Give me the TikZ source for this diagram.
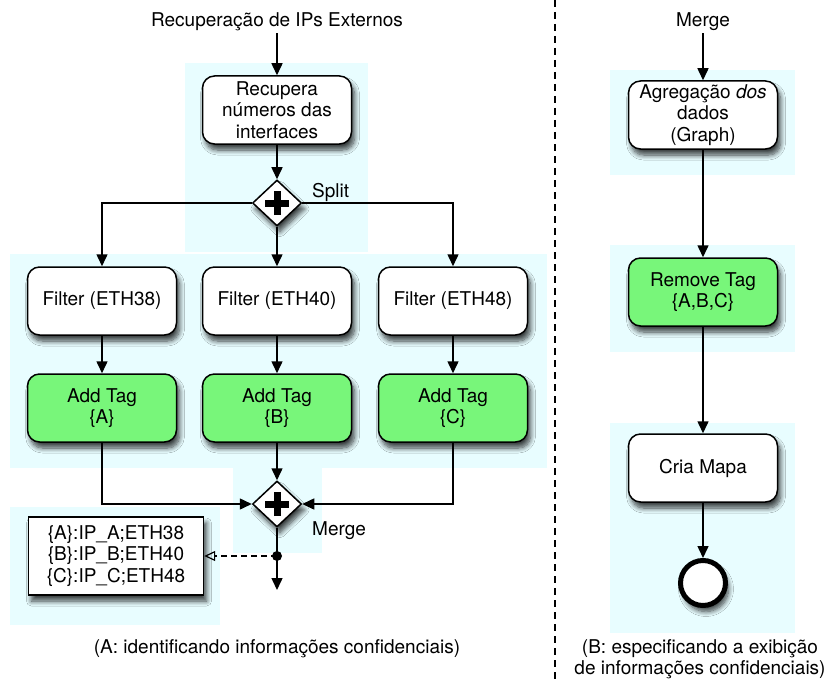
\documentclass[tikz,border=0pt]{standalone}
\usepackage{fontspec}
\setmainfont{TeX Gyre Heros}
\usetikzlibrary{arrows.meta,shapes.geometric,shadows.blur}
\definecolor{lane}{RGB}{232,253,255}
\definecolor{tagfill}{RGB}{120,246,122}
\tikzset{
  softshadow/.style={blur shadow={shadow xshift=3pt, shadow yshift=-6pt,
      shadow blur radius=5pt, shadow blur steps=8, shadow opacity=75}},
  task/.style={draw=black, line width=1.5pt, rounded corners=12pt, fill=white,
      minimum width=149pt, minimum height=68pt, align=center, inner sep=2pt,
      font=\fontsize{19}{21.5}\selectfont, softshadow},
  tagtask/.style={task, fill=tagfill},
  gate/.style={diamond, aspect=1.06, draw=black, fill=white, line width=1.5pt,
      minimum width=49pt, minimum height=46pt, inner sep=0pt, softshadow,
      path picture={
        \draw[line width=7pt] ([xshift=-12pt]path picture bounding box.center)
             -- ([xshift=12pt]path picture bounding box.center);
        \draw[line width=7pt] ([yshift=-12pt]path picture bounding box.center)
             -- ([yshift=12pt]path picture bounding box.center);}},
  endevent/.style={circle, draw=black, fill=white, line width=5pt,
      minimum size=45pt, inner sep=0pt, softshadow},
  note/.style={draw=black, fill=white, line width=1.4pt, minimum width=175pt,
      minimum height=78pt, align=center, inner sep=2pt,
      font=\fontsize{19}{21.5}\selectfont, softshadow},
  lbl/.style={font=\fontsize{19}{21.5}\selectfont, inner sep=0pt, align=center},
  flow/.style={line width=1.5pt, -{Triangle[length=12pt,width=11pt]}},
  assoc/.style={line width=1.3pt, dash pattern=on 6pt off 4pt,
      -{Triangle[open,length=11pt,width=10pt,line width=1.2pt]}},
  region/.style={fill=lane, draw=none}
}
\begin{document}
\begin{tikzpicture}[x=1pt, y=-1pt]
  \useasboundingbox[fill=white] (0,0) rectangle (832,682);

  % light background areas
  \fill[region] (185,63) rectangle (368,252);
  \fill[region] (10,254) rectangle (547,468);
  \fill[region] (233,468) rectangle (322,553);
  \fill[region] (10,507) rectangle (220,625);
  \fill[region] (610,70) rectangle (795,175);
  \fill[region] (610,245) rectangle (795,352);
  \fill[region] (610,423) rectangle (795,633);

  % separator between the two parts
  \coordinate (sepTop) at (555,0);
  \coordinate (sepBot) at (555,682);
  \draw[line width=1.4pt, dash pattern=on 7pt off 5pt] (sepTop) -- (sepBot);

  % ---- part A ----
  \node[lbl] (titleA) at (277,22) {Recuperação de IPs Externos};
  \node[task] (recup) at (277,110) {Recupera\\números das\\interfaces};
  \node[gate] (split) at (277,203) {};
  \node[lbl, anchor=west] (splitlbl) at (312,192) {Split};

  \node[task] (f38) at (102,301) {Filter (ETH38)};
  \node[task] (f40) at (277,301) {Filter (ETH40)};
  \node[task] (f48) at (453,301) {Filter (ETH48)};

  \node[tagtask] (tA) at (102,408) {Add Tag\\\{A\}};
  \node[tagtask] (tB) at (277,408) {Add Tag\\\{B\}};
  \node[tagtask] (tC) at (453,408) {Add Tag\\\{C\}};

  \node[gate] (merge) at (277,504) {};
  \node[lbl, anchor=west] (mergelbl) at (312,531) {Merge};

  \node[note] (tags) at (116,556)
    {\{A\}:IP\_A;ETH38\\\{B\}:IP\_B;ETH40\\\{C\}:IP\_C;ETH48};

  \coordinate (tap) at (277,556);
  \coordinate (outA) at (277,590);

  \draw[flow] ([yshift=-2pt]titleA.south) -- (recup);
  \draw[flow] (recup) -- (split);
  \draw[flow] (split.west) -| (f38.north);
  \draw[flow] (split.east) -| (f48.north);
  \draw[flow] (split) -- (f40);
  \draw[flow] (f38) -- (tA);
  \draw[flow] (f40) -- (tB);
  \draw[flow] (f48) -- (tC);
  \draw[flow] (tA.south) |- (merge.west);
  \draw[flow] (tC.south) |- (merge.east);
  \draw[flow] (tB) -- (merge);
  \draw[flow] (merge.south) -- (outA);
  \fill (tap) circle[radius=5pt];
  \draw[assoc] (tap) -- (tap -| tags.east);

  \node[lbl] (capA) at (277,649) {(A: identificando informações confidenciais)};

  % ---- part B ----
  \node[lbl] (titleB) at (703,22) {Merge};
  \node[task] (aggr) at (703,115) {Agregação \textit{dos}\\dados\\(Graph)};
  \node[tagtask] (rem) at (703,292) {Remove Tag\\\{A,B,C\}};
  \node[task] (mapa) at (703,468) {Cria Mapa};
  \node[endevent] (fim) at (703,583) {};

  \draw[flow] ([yshift=-2pt]titleB.south) -- (aggr);
  \draw[flow] (aggr) -- (rem);
  \draw[flow] (rem) -- (mapa);
  \draw[flow] (mapa) -- (fim);

  \node[lbl] (capB) at (700,659) {(B: especificando a exibição\\de informações confidenciais)};
\end{tikzpicture}
\end{document}
